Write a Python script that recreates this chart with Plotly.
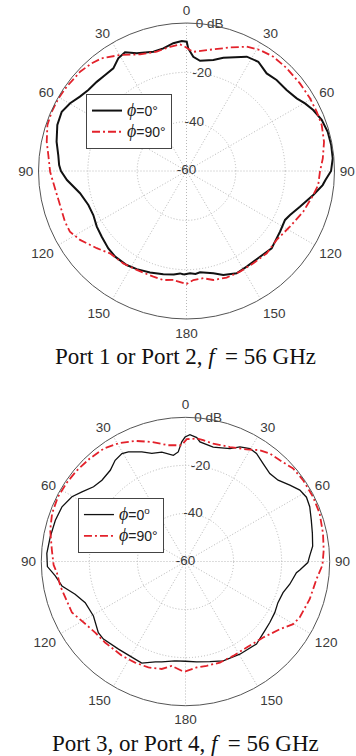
import plotly.graph_objects as go

# ---- Port 1 / Port 2 pattern (angle in degrees, gain in dB) ----
theta_p12_phi0 = [-178.5, -176.4, -173.0, -167.3, -160.2, -153.1, -147.5, -140.2, -134.7, -127.8,
                  -121.8, -115.3, -109.1, -101.8, -94.3, -90.0, -87.3, -82.9, -77.3, -70.4,
                  -64.6, -59.8, -55.1, -50.5, -45.2, -40.3, -35.5, -31.2, -27.4, -22.9,
                  -15.5, -10.7, -5.9, -2.1, 0.1, 0.8, 3.4, 7.0, 13.6, 18.0,
                  27.8, 33.3, 39.4, 44.7, 51.0, 56.6, 60.3, 64.3, 69.3, 74.5,
                  79.8, 85.1, 90.0, 93.8, 95.9, 100.7, 107.5, 113.0, 116.4, 123.0,
                  128.6, 132.2, 139.4, 147.8, 153.9, 160.5, 165.3, 172.4, 175.0, 178.0]
gain_p12_phi0 = [-18.0, -18.4, -17.7, -17.1, -16.3, -15.4, -14.8, -14.8, -15.4, -16.5,
                 -17.2, -18.2, -17.9, -15.9, -11.4, -9.1, -8.3, -7.6, -6.0, -4.4,
                 -4.0, -5.4, -7.3, -8.4, -8.7, -9.0, -8.9, -6.6, -5.8, -8.2,
                 -9.8, -9.4, -7.9, -7.3, -7.6, -10.3, -13.6, -15.0, -13.7, -11.7,
                 -7.6, -7.0, -8.8, -8.1, -7.8, -6.5, -4.7, -3.0, -1.4, -0.6,
                 -0.4, -0.5, -1.4, -3.6, -4.5, -7.7, -11.8, -14.4, -15.4, -14.8,
                 -14.1, -13.4, -14.2, -14.2, -13.8, -15.3, -17.1, -18.6, -18.1, -18.5]

theta_p12_phi90 = [-173.1, -167.9, -162.6, -153.3, -145.6, -137.1, -130.7, -122.9, -117.5, -112.6,
                   -105.0, -97.5, -90.3, -83.4, -78.2, -71.7, -66.3, -60.4, -54.9, -47.0,
                   -41.4, -37.0, -29.8, -21.7, -14.0, -7.6, -2.9, -0.7, 1.7, 3.3,
                   9.5, 19.4, 25.8, 31.3, 37.2, 44.3, 52.3, 59.5, 65.5, 71.2,
                   78.0, 84.7, 90.3, 96.1, 100.7, 109.2, 118.3, 127.4, 135.7, 144.1,
                   152.0, 159.4, 166.2, 171.1, 176.4, 180.0]
gain_p12_phi90 = [-15.5, -14.8, -15.1, -15.1, -14.6, -14.4, -12.0, -8.6, -6.7, -6.6,
                  -6.9, -6.2, -4.7, -3.6, -2.1, -0.6, -0.3, -0.3, -0.6, -1.0,
                  -1.8, -2.8, -5.8, -9.1, -10.1, -9.2, -8.6, -9.6, -10.9, -11.6,
                  -10.3, -6.9, -4.0, -2.6, -1.8, -1.8, -1.9, -1.9, -2.0, -2.1,
                  -3.0, -4.5, -5.9, -6.3, -7.7, -9.9, -12.4, -14.0, -13.4, -13.8,
                  -13.8, -13.8, -14.5, -16.0, -15.7, -14.2]

# ---- Port 3 / Port 4 pattern ----
theta_p34_phi0 = [-174.0, -166.7, -163.3, -156.7, -152.7, -142.6, -133.4, -129.2, -120.6, -112.3,
                  -106.5, -101.2, -96.3, -92.1, -86.6, -79.6, -72.4, -66.1, -60.3, -56.1,
                  -50.9, -45.8, -39.5, -34.8, -30.5, -27.5, -21.7, -17.3, -12.2, -6.5,
                  -3.8, -1.8, -0.2, 2.0, 5.2, 6.9, 13.6, 21.5, 25.4, 29.7,
                  33.3, 38.4, 43.8, 48.7, 53.8, 58.0, 62.0, 66.2, 71.8, 77.4,
                  83.1, 87.5, 90.5, 94.2, 95.8, 102.3, 107.7, 114.0, 119.8, 125.9,
                  131.2, 139.3, 149.6, 159.2, 166.3, 173.6, 180.0]
gain_p34_phi0 = [-18.4, -17.1, -16.4, -14.0, -14.3, -14.1, -13.0, -13.2, -15.5, -14.9,
                 -12.1, -7.6, -5.5, -2.5, -2.2, -2.8, -3.2, -3.8, -5.6, -8.1,
                 -10.7, -11.5, -10.8, -8.7, -7.9, -8.6, -10.9, -12.9, -13.4, -15.5,
                 -14.3, -10.2, -8.2, -7.2, -8.2, -9.9, -11.0, -9.5, -7.2, -5.9,
                 -6.2, -8.0, -9.3, -8.7, -6.2, -3.9, -3.0, -3.5, -4.9, -5.9,
                 -6.7, -8.3, -9.1, -12.3, -13.6, -15.6, -17.4, -17.9, -17.2, -16.7,
                 -16.2, -14.7, -15.3, -15.8, -17.1, -18.0, -18.5]

theta_p34_phi90 = [-178.0, -172.5, -167.5, -160.7, -153.5, -146.0, -135.2, -128.2, -119.8, -114.2,
                   -101.0, -95.0, -91.5, -85.1, -76.9, -70.2, -63.3, -56.3, -50.2, -42.9,
                   -35.7, -29.3, -22.7, -15.8, -8.4, -1.9, 0.6, 5.2, 8.3, 13.2,
                   21.2, 28.6, 33.7, 38.0, 43.0, 49.2, 55.3, 63.1, 70.3, 78.4,
                   85.3, 91.5, 97.7, 106.9, 116.1, 120.2, 125.7, 134.4, 144.6, 153.2,
                   161.2, 168.5, 174.0, 180.0]
gain_p34_phi90 = [-14.5, -16.2, -14.2, -13.3, -13.0, -12.7, -12.5, -12.2, -10.3, -8.2,
                  -6.9, -6.3, -5.1, -4.2, -2.2, -1.0, -0.5, -0.7, -1.0, -1.5,
                  -2.0, -3.5, -5.6, -8.3, -11.1, -11.6, -9.1, -8.6, -9.0, -9.6,
                  -8.9, -6.9, -4.3, -3.0, -2.4, -0.8, -0.5, -0.5, -0.7, -1.6,
                  -2.3, -3.0, -5.0, -6.0, -7.1, -8.2, -11.7, -14.8, -16.1, -16.0,
                  -15.6, -15.7, -15.7, -14.3]

# ---- axis labels ----
angle_ticks = [0, 30, 60, 90, 120, 150, 180, 210, 240, 270, 300, 330]
angle_labels = ["0", "30", "60", "90", "120", "150", "180", "150", "120", "90", "60", "30"]
gain_ticks = [-60, -40, -20, 0]
gain_labels = ["-60", "-40", "-20", "0 dB"]
titles = ["Port 1 or Port 2, <i>f</i>\u2009 = 56 GHz",
          "Port 3, or Port 4, <i>f</i>\u2009 = 56 GHz"]

PHI = '<span style="font-family:Liberation Serif;font-size:18px"><i>ϕ</i></span>'
RED = "#e3222b"
GRID = "#b8b8b8"
TICK_FONT = dict(family="Liberation Sans, Arial, sans-serif", size=13.5, color="#3a3a3a")


def closed(a):
    return list(a) + [a[0]]


fig = go.Figure()

panels = [
    ("polar", "legend", theta_p12_phi0, gain_p12_phi0, theta_p12_phi90, gain_p12_phi90, 2.0, "0°"),
    ("polar2", "legend2", theta_p34_phi0, gain_p34_phi0, theta_p34_phi90, gain_p34_phi90, 1.3, "0<sup>o</sup>"),
]

for sub, leg, th0, g0, th90, g90, w0, deg0 in panels:
    fig.add_trace(go.Scatterpolar(
        theta=closed(th0), r=closed(g0), mode="lines", subplot=sub, legend=leg,
        name=PHI + "=" + deg0, line=dict(color="#111111", width=w0)))
    fig.add_trace(go.Scatterpolar(
        theta=closed(th90), r=closed(g90), mode="lines", subplot=sub, legend=leg,
        name=PHI + "=90°", line=dict(color=RED, width=1.8, dash="8px,3px,2px,3px")))
    # radial scale labels along a slightly tilted line
    fig.add_trace(go.Scatterpolar(
        theta=[9] * len(gain_ticks), r=gain_ticks, text=gain_labels, mode="text",
        subplot=sub, showlegend=False, cliponaxis=False, hoverinfo="skip",
        textfont=TICK_FONT))

polar_style = dict(
    bgcolor="white",
    angularaxis=dict(rotation=90, direction="clockwise", tickmode="array",
                     tickvals=angle_ticks, ticktext=angle_labels,
                     ticks="outside", ticklen=2, tickcolor="rgba(0,0,0,0)",
                     tickfont=TICK_FONT, showline=True, linecolor="#555555", linewidth=1,
                     showgrid=True, gridcolor=GRID, griddash="1px,2px", gridwidth=1),
    radialaxis=dict(range=[-60, 0], tickvals=gain_ticks, showticklabels=False, ticks="",
                    showline=False, showgrid=True, gridcolor=GRID, griddash="1px,2px",
                    gridwidth=1),
)

legend_style = dict(xanchor="left", yanchor="top", bgcolor="white", bordercolor="#444",
                    borderwidth=1, font=dict(family="Liberation Sans, Arial, sans-serif",
                                             size=14, color="#222"),
                    tracegroupgap=0, itemwidth=30)

title_font = dict(family="Liberation Serif, Times New Roman, serif", size=23, color="#111")

fig.update_layout(
    width=356, height=756,
    margin=dict(l=0, r=0, t=0, b=0),
    paper_bgcolor="white",
    showlegend=True,
    polar=dict(domain=dict(x=[0.1082, 0.9396], y=[0.5780, 0.9696]), **polar_style),
    polar2=dict(domain=dict(x=[0.1160, 0.9261], y=[0.0665, 0.4480]), **polar_style),
    legend=dict(x=0.2416, y=0.8757, **legend_style),
    legend2=dict(x=0.2190, y=0.3413, **legend_style),
    annotations=[
        dict(text=titles[0], xref="paper", yref="paper", x=0.52, y=0.5290,
             xanchor="center", yanchor="middle", showarrow=False, font=title_font),
        dict(text=titles[1], xref="paper", yref="paper", x=0.52, y=0.0170,
             xanchor="center", yanchor="middle", showarrow=False, font=title_font),
    ],
)

fig.write_html("out.html")
